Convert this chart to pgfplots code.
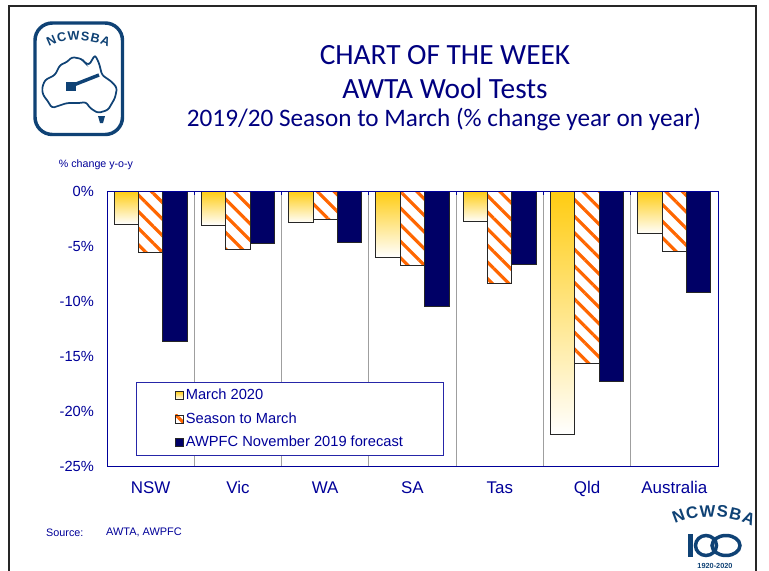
\documentclass[border=0pt]{standalone}
\usepackage{pgfplots}
\pgfplotsset{compat=1.18}
\usepackage{fontspec}
\setmainfont{Liberation Sans}
\newfontfamily\carlito{Carlito}
\usetikzlibrary{patterns.meta,decorations.text}
\definecolor{axc}{HTML}{000099}
\definecolor{navy}{HTML}{000066}
\definecolor{ttl}{HTML}{000080}
\definecolor{logo}{HTML}{0F4275}
\definecolor{gold}{HTML}{FFCC11}
\definecolor{hatch}{HTML}{FF6600}
\tikzset{hatched/.style={draw=black!85,line width=0.75pt,bar shift=0pt,pattern={Lines[angle=-45,distance=8.8pt,line width=2.4pt]},pattern color=hatch},
 golden/.style={draw=black!85,line width=0.75pt,bar shift=-18.3pt,top color=gold,bottom color=white},
 navybar/.style={draw=black!85,line width=0.75pt,bar shift=18.3pt,fill=navy}}
\pgfplotstableread{
idx b c
0 -5.6 -13.7
1 -5.3 -4.8
2 -2.6 -4.7
3 -6.8 -10.5
4 -8.4 -6.7
5 -15.7 -17.3
6 -5.5 -9.2
}\wooldata
\begin{document}
\begin{tikzpicture}[x=0.75pt,y=-0.75pt]
\useasboundingbox (0,0) rectangle (769,571);
\fill[white] (0,0) rectangle (769,571);
\draw[black!85,line width=1.2pt] (9,572)--(9,6)--(756,6)--(756,572);
% titles
\node[text=ttl,font=\carlito\fontsize{22pt}{26pt}\selectfont] at (445,55) {CHART OF THE WEEK};
\node[text=ttl,font=\carlito\fontsize{22pt}{26pt}\selectfont] at (445,88) {AWTA Wool Tests};
\node[text=ttl,font=\carlito\fontsize{18.9pt}{22pt}\selectfont] at (444,119.5) {2019/20 Season to March (\% change year on year)};
\node[text=axc,font=\fontsize{8pt}{10pt}\selectfont] at (96,165) {\% change y-o-y};
\node[text=axc,anchor=west,font=\fontsize{8.1pt}{10pt}\selectfont] at (41.5,532.5) {Source:};
\node[text=axc,anchor=west,font=\fontsize{8.2pt}{10pt}\selectfont] at (101.5,532.5) {AWTA, AWPFC};
\begin{axis}[
  at={(80.25pt,-349.5pt)},anchor=south west,scale only axis,
  width=458.25pt,height=206.25pt,
  xmin=-0.5,xmax=6.5,ymin=-25,ymax=0,
  ybar=0pt,bar width=18.3pt,
  axis line style={axc,line width=0.7pt},
  axis on top,
  xtick={0,1,2,3,4,5,6},
  xticklabels={NSW,Vic,WA,SA,Tas,Qld,Australia},
  minor xtick={0.5,1.5,2.5,3.5,4.5,5.5},
  xminorgrids=true,
  minor grid style={gray!75,line width=0.75pt},
  xtick pos=upper,xticklabel pos=lower,
  xtick align=inside,
  major tick length=0pt,
  minor tick length=3pt,
  ytick={-25,-20,-15,-10,-5,0},
  yticklabels={-25\%,-20\%,-15\%,-10\%,-5\%,0\%},
  ytick pos=left,
  y tick style={axc,line width=0.7pt},
  minor x tick style={axc,line width=0.7pt},
  tick label style={text=axc},
  x tick label style={font=\fontsize{12.7pt}{15pt}\selectfont,yshift=-8pt,text height=9pt,text depth=2.5pt},
  y tick label style={font=\fontsize{11pt}{13pt}\selectfont,xshift=-6.3pt},
  legend cell align=left,
  legend style={at={(0.2995,0.171)},anchor=center,draw=axc!85,line width=0.7pt,fill=white,
    inner xsep=29pt,inner ysep=3.7pt,row sep=6.3pt,
    text=axc,font=\fontsize{11pt}{13pt}\selectfont,nodes={inner xsep=1.5pt,inner ysep=1pt}},
  clip=true,
]
\addplot[golden,legend image code/.code={\draw[black!85,line width=0.6pt,top color=gold,bottom color=white] (0pt,-3pt) rectangle (6pt,3pt);}] coordinates {(0,-3.0)};
\addlegendentry{March 2020}
\addplot[hatched,legend image code/.code={\draw[black!85,line width=0.6pt,pattern={Lines[angle=-45,distance=8.8pt,line width=2.4pt]},pattern color=hatch] (0pt,-3pt) rectangle (6pt,3pt);}] table[x=idx,y=b] {\wooldata};
\addlegendentry{Season to March}
\addplot[navybar,legend image code/.code={\draw[black!85,line width=0.6pt,fill=navy] (0pt,-3pt) rectangle (6pt,3pt);}] table[x=idx,y=c] {\wooldata};
\addlegendentry{AWPFC November 2019 forecast}
\addplot[golden,forget plot] coordinates {(1,-3.1)};
\addplot[golden,forget plot] coordinates {(2,-2.9)};
\addplot[golden,forget plot] coordinates {(3,-6.0)};
\addplot[golden,forget plot] coordinates {(4,-2.8)};
\addplot[golden,forget plot] coordinates {(5,-22.1)};
\addplot[golden,forget plot] coordinates {(6,-3.9)};
\end{axis}
% NCWSBA logo, top left
\draw[logo,line width=2.6pt,rounded corners=13pt] (35,23) rectangle (122.5,134.5);
\path[decorate,decoration={text along path,text align={fit to path},
  text={|\color{logo}\bfseries\fontsize{9.5pt}{10pt}\selectfont|NCWSBA}}] (49,47) .. controls (65,38) and (90,38) .. (108,47);
\draw[logo,line width=1.3pt,rounded corners=2pt] (42,88)--(45,80)--(55,75)--(60,65)--(67,62)--(72,57)--(82,59)--(84,62)--(89,65)--(95,55)--(99,63)--(102,75)--(112,82)--(117,88)--(115,98)--(108,110)--(98,113)--(90,108)--(86,102)--(80,103)--(67,103)--(52,108)--(47,100)--(43,95)--cycle;
\fill[logo] (98,116)--(105,116)--(103,123)--(100,123)--cycle;
\draw[logo,line width=2.6pt] (71,86)--(99,75);
\fill[logo] (66,82) rectangle (76,91);
% NCWSBA 100 logo, bottom right
\path[decorate,decoration={text along path,text align={fit to path},
  text={|\color{logo}\bfseries\fontsize{12.5pt}{14pt}\selectfont|NCWSBA}}] (675,524) .. controls (695,514) and (730,514) .. (752,526);
\fill[logo] (688,534) rectangle (693,557);
\draw[logo,line width=2.6pt] (706,545.5) circle[x radius=10.5,y radius=10];
\draw[logo,line width=2.6pt] (726,545.5) circle[x radius=14,y radius=10];
\node[text=logo,font=\bfseries\fontsize{5.5pt}{6pt}\selectfont] at (715,566) {1920-2020};
\end{tikzpicture}
\end{document}
